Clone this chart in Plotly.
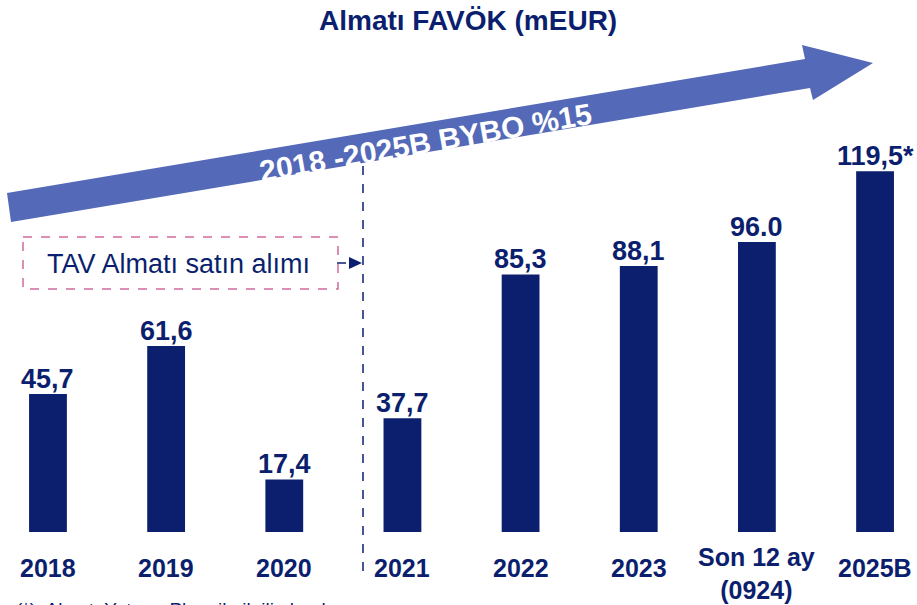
import plotly.graph_objects as go

categories = ["2018", "2019", "2020", "2021", "2022", "2023", "Son 12 ay<br>(0924)", "2025B"]
values = [45.7, 61.6, 17.4, 37.7, 85.3, 88.1, 96.0, 119.5]
value_labels = ["45,7", "61,6", "17,4", "37,7", "85,3", "88,1", "96.0", "119,5*"]

W, H = 917, 605
NAVY = "#0B1F6E"
ARROW = "#5469B8"
PINK = "#D2699C"
FONT = "Liberation Sans"


def P(px, py):
    return px / W, 1 - py / H


fig = go.Figure()
xs = list(range(len(categories)))
fig.add_trace(go.Bar(x=xs, y=values, width=0.32, marker=dict(color=NAVY, line=dict(width=0)),
                     hoverinfo="skip"))

annotations = []
for i, (v, lab) in enumerate(zip(values, value_labels)):
    annotations.append(dict(x=i, y=v, text=f"<b>{lab}</b>", showarrow=False, xref="x", yref="y",
                            xanchor="center", yanchor="bottom", yshift=-2,
                            font=dict(family=FONT, size=27, color=NAVY)))
for i, c in enumerate(categories):
    two = "<br>" in c
    annotations.append(dict(x=i, y=-6.5 if not two else -3.0, text=f"<b>{c}</b>", showarrow=False,
                            xref="x", yref="y", xanchor="center", yanchor="top",
                            font=dict(family=FONT, size=25, color=NAVY)))

# title
tx, ty = P(468, 21)
annotations.append(dict(x=tx, y=ty, xref="paper", yref="paper", xanchor="center", yanchor="middle",
                        text="<b>Almatı FAVÖK (mEUR)</b>",
                        showarrow=False, font=dict(family=FONT, size=28, color=NAVY)))
# arrow text
ax, ay = P(425, 142)
annotations.append(dict(x=ax, y=ay, xref="paper", yref="paper", xanchor="center", yanchor="middle",
                        text="<b>2018 -2025B BYBO %15</b>",
                        showarrow=False, textangle=-10, font=dict(family=FONT, size=30, color="white")))
# box text
bx, by = P(178, 264)
annotations.append(dict(x=bx, y=by, xref="paper", yref="paper", xanchor="center", yanchor="middle",
                        text="TAV Almatı satın alımı",
                        showarrow=False, font=dict(family=FONT, size=27, color=NAVY)))
# footnote (clipped at bottom edge, as in the reference)
fx, fy = P(14, 597)
annotations.append(dict(x=fx, y=fy, xref="paper", yref="paper", xanchor="left", yanchor="top",
                        text="(*)  Almatı Yatırım Planı ile ilgili olarak ...", showarrow=False,
                        font=dict(family=FONT, size=19, color=NAVY)))


def path(points):
    s = ""
    for k, (px, py) in enumerate(points):
        x, y = P(px, py)
        s += ("M" if k == 0 else "L") + f"{x:.5f},{y:.5f} "
    return s + "Z"


shapes = []
shapes.append(dict(type="path", xref="paper", yref="paper", layer="below",
                   path=path([(7, 193), (805, 59), (802, 45), (873, 63), (813, 100), (810, 88), (11, 222)]),
                   fillcolor=ARROW, line=dict(width=0)))
x0, y0 = P(363, 166)
x1, y1 = P(363, 578)
shapes.append(dict(type="line", xref="paper", yref="paper", x0=x0, y0=y0, x1=x1, y1=y1,
                   line=dict(color=NAVY, width=1.5, dash="dash")))
rx0, ry0 = P(23, 237)
rx1, ry1 = P(338, 289)
shapes.append(dict(type="rect", xref="paper", yref="paper", x0=rx0, y0=ry0, x1=rx1, y1=ry1,
                   line=dict(color=PINK, width=1.5, dash="dash")))
cx0, cy = P(337, 263)
cx1, _ = P(350, 263)
shapes.append(dict(type="line", xref="paper", yref="paper", x0=cx0, y0=cy, x1=cx1, y1=cy,
                   line=dict(color=NAVY, width=1.5, dash="dash")))
shapes.append(dict(type="path", xref="paper", yref="paper",
                   path=path([(349, 257), (349, 269), (362, 263)]), fillcolor=NAVY, line=dict(width=0)))

fig.update_layout(
    width=W, height=H, margin=dict(l=0, r=0, t=0, b=0),
    paper_bgcolor="white", plot_bgcolor="white", showlegend=False,
    xaxis=dict(range=[-0.406, 7.355], visible=False, fixedrange=True),
    yaxis=dict(range=[-24.2, 176.2], visible=False, fixedrange=True),
    annotations=annotations, shapes=shapes,
)
fig.write_html("out.html", config={"displayModeBar": False},
               post_script="document.body.style.margin='0';document.body.style.overflow='hidden';")
